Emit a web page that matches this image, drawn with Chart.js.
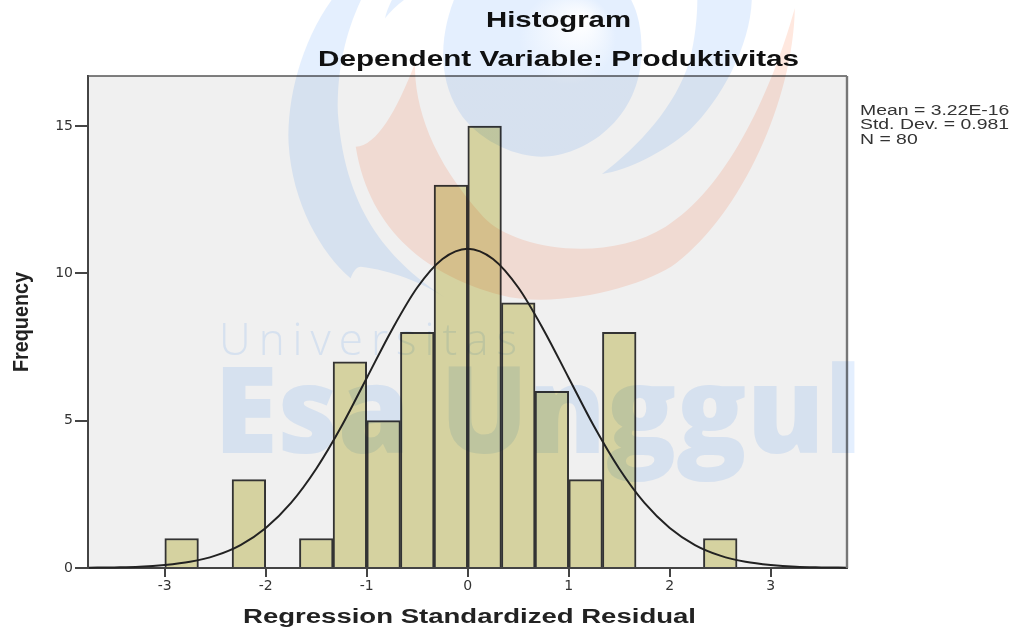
<!DOCTYPE html>
<html><head><meta charset="utf-8">
<style>html,body{margin:0;padding:0;background:#fff}canvas{display:block;filter:blur(0.55px)}#w{width:1016px;height:633px;position:relative}</style>
<script src="https://cdn.jsdelivr.net/npm/chart.js@4/dist/chart.umd.min.js"></script>
</head><body><div id="w"><canvas id="c" width="1016" height="633"></canvas></div>
<script>
const binCenters = [-2.833,-2.167,-1.5,-1.167,-0.833,-0.5,-0.167,0.167,0.5,0.833,1.167,1.5,2.5];
const frequencies = [1,3,1,7,5,8,13,15,9,6,3,8,1];
const curveX = [-3.75,-3.5,-3.25,-3,-2.75,-2.5,-2.25,-2,-1.75,-1.5,-1.25,-1,-0.75,-0.5,-0.25,0,0.25,0.5,0.75,1,1.25,1.5,1.75,2,2.25,2.5,2.75,3,3.25,3.5,3.75];
const curveY = [0.01,0.02,0.04,0.1,0.21,0.42,0.78,1.36,2.21,3.37,4.81,6.45,8.09,9.52,10.49,10.84,10.49,9.52,8.09,6.45,4.81,3.37,2.21,1.36,0.78,0.42,0.21,0.1,0.04,0.02,0.01];
const titleText = "Histogram";
const subtitleText = "Dependent Variable: Produktivitas";
const xTitle = "Regression Standardized Residual";
const yTitle = "Frequency";
const statLines = ["Mean = 3.22E-16","Std. Dev. = 0.981","N = 80"];

function fitText(ctx,text,cx,cy,font,width,color,rot){
  ctx.save();ctx.font=font;ctx.fillStyle=color;ctx.textAlign='center';ctx.textBaseline='middle';
  const m=ctx.measureText(text).width;
  ctx.translate(cx,cy);if(rot)ctx.rotate(rot);ctx.scale(width/m,1);ctx.fillText(text,0,0);ctx.restore();
}
function poly(ctx,pts){
  ctx.beginPath();ctx.moveTo(pts[0],pts[1]);
  for(let i=2;i<pts.length;i+=6)ctx.bezierCurveTo(pts[i],pts[i+1],pts[i+2],pts[i+3],pts[i+4],pts[i+5]);
  ctx.closePath();
}
const decor={id:'decor',
  beforeDraw(ch){const c=ch.ctx,a=ch.chartArea;c.save();c.fillStyle='#fff';c.fillRect(0,0,ch.width,ch.height);c.fillStyle='#f0f0f0';c.fillRect(a.left,a.top,a.width,a.height);c.restore();},
  afterDatasetsDraw(ch){const c=ch.ctx,a=ch.chartArea;c.save();c.strokeStyle='#555';c.lineWidth=1.5;c.beginPath();c.moveTo(a.left,a.top);c.lineTo(a.right,a.top);c.stroke();c.strokeStyle='#777';c.lineWidth=2.4;c.beginPath();c.moveTo(a.right,a.top);c.lineTo(a.right,a.bottom);c.stroke();c.restore();},
  afterDraw(ch){const c=ch.ctx;
    fitText(c,titleText,558.5,21,'bold 22px "Liberation Sans"',145,'#111');
    fitText(c,subtitleText,558.5,60,'bold 22px "Liberation Sans"',481,'#111');
    fitText(c,xTitle,469.5,617,'bold 20px "Liberation Sans"',453,'#222');
    fitText(c,yTitle,22,322,'bold 22px "Liberation Sans"',100,'#222',-Math.PI/2);
    statLines.forEach((t,i)=>{c.save();c.font='14px "Liberation Sans"';c.fillStyle='#333';c.textBaseline='middle';const m=c.measureText(statLines[1]).width;c.translate(860,111+i*14.5);c.scale(149/m,1);c.fillText(t,0,0);c.restore();});
    c.save();c.globalCompositeOperation='multiply';
    const blue='rgb(228,239,254)',orange='rgb(255,232,223)';
    c.save();c.translate(280,0);c.scale(1/2.904,1/3);
    c.fillStyle=orange;
    poly(c,[1495,25, 1490,300,1340,640,1150,790, 1060,860,800,930,640,885, 440,830,260,700,220,440, 280,440,340,330,392,190, 390,320,440,480,590,650, 680,750,950,790,1120,680, 1290,570,1420,300,1495,25]);c.fill();
    c.fillStyle=blue;
    poly(c,[150,0, 60,130,20,300,25,430, 35,610,120,760,205,835, 210,820,220,800,235,800, 320,810,420,850,478,892, 330,790,190,650,168,340, 165,210,190,100,235,0]);c.fill();
    poly(c,[1370,0, 1365,140,1280,300,1190,390, 1110,460,1010,510,935,522, 1040,440,1150,320,1190,180, 1205,120,1212,50,1212,0]);c.fill();
    poly(c,[305,55, 320,35,340,15,360,0, 345,0,330,0,325,0, 315,20,308,40,305,55]);c.fill();
    const g=c.createRadialGradient(880,60,10,780,180,300);g.addColorStop(0,'#fff');g.addColorStop(0.45,blue);g.addColorStop(1,blue);
    c.fillStyle=g;
    poly(c,[505,0, 460,120,460,250,530,350, 590,430,690,470,760,470, 880,470,1050,360,1050,150, 1050,90,1040,40,1020,0, 850,0,680,0,505,0]);c.fill();
    c.restore();
    c.fillStyle=blue;
    c.save();c.font='300 44px "Open Sans"';c.letterSpacing='8px';c.textBaseline='alphabetic';c.fillText('Universitas',219,355);c.restore();
    c.save();c.font='800 120px "Open Sans"';c.textBaseline='alphabetic';const t='Esa Unggul',m=c.measureText(t).width;c.translate(214,453);c.scale(648/m,1);c.fillText(t,0,0);c.restore();
    c.restore();
  }
};
new Chart(document.getElementById('c'),{
  data:{datasets:[
    {type:'line',order:0,data:curveX.map((x,i)=>({x,y:curveY[i]})),borderColor:'#222',borderWidth:2,pointRadius:0,fill:false,cubicInterpolationMode:'monotone',clip:false},
    {type:'bar',order:1,data:binCenters.map((x,i)=>({x,y:frequencies[i]})),backgroundColor:'rgb(213,210,160)',borderColor:'#333',borderWidth:2,barPercentage:1,categoryPercentage:1}
  ]},
  options:{responsive:false,animation:false,events:[],
    layout:{padding:{top:76,right:169,left:0,bottom:0}},
    plugins:{legend:{display:false},tooltip:{enabled:false},title:{display:false}},
    scales:{
      x:{type:'linear',min:-3.76,max:3.755,offset:false,afterFit(s){s.height=65;},
        border:{color:'#444',width:2},
        grid:{offset:false,drawOnChartArea:false,color:'#444',tickLength:9,lineWidth:2},
        ticks:{stepSize:1,includeBounds:false,maxRotation:0,padding:1,color:'#333',font:{family:'DejaVu Sans',size:14}}},
      y:{type:'linear',min:0,max:16.7,afterFit(s){s.width=88;},
        border:{color:'#444',width:2},
        grid:{drawOnChartArea:false,color:'#444',tickLength:13,lineWidth:2},
        ticks:{stepSize:5,includeBounds:false,padding:2,color:'#333',font:{family:'DejaVu Sans',size:14}}}
    }
  },
  plugins:[decor]
});
</script></body></html>
